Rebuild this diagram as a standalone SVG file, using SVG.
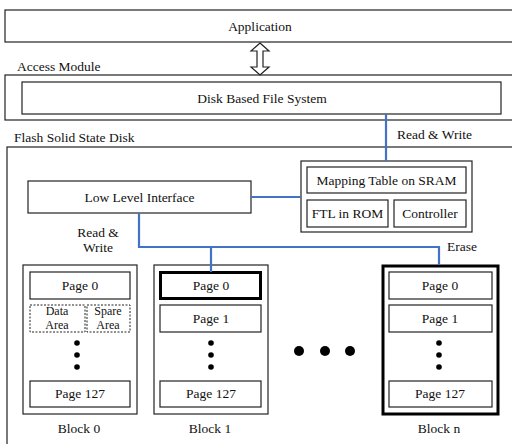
<svg xmlns="http://www.w3.org/2000/svg" width="512" height="444" viewBox="0 0 512 444">
<style>
.b{fill:#fff;stroke:#222;stroke-width:1.2}
.thick{fill:#fff;stroke:#000;stroke-width:3}
.dash{fill:none;stroke:#222;stroke-width:1;stroke-dasharray:2,1.5}
text{font-family:"Liberation Serif","Times New Roman",serif;font-size:13.5px;fill:#111}
.c{text-anchor:middle}
.s{font-size:12px}
.con{fill:none;stroke:#4472C4;stroke-width:2.2}
.dot{fill:#000}
</style>
<rect width="512" height="444" fill="#fff"/>
<g id="application">
<rect class="b" x="5" y="10" width="520" height="32"/>
<text class="c" x="260" y="31">Application</text>
</g>
<g id="access-module">
<rect class="b" x="5" y="75" width="520" height="45"/>
<text x="17" y="71">Access Module</text>
</g>
<g id="disk-fs">
<rect class="b" x="22" y="82" width="479" height="32"/>
<text class="c" x="262" y="103">Disk Based File System</text>
</g>
<g id="flash-ssd">
<rect class="b" x="7" y="147" width="520" height="310"/>
<text x="14" y="142">Flash Solid State Disk</text>
</g>
<g id="controller-group">
<rect class="b" x="301" y="161" width="171" height="71"/>
</g>
<g id="mapping-table">
<rect class="b" x="307" y="167" width="159" height="26"/>
<text class="c" x="386.5" y="185">Mapping Table on SRAM</text>
</g>
<g id="ftl-rom">
<rect class="b" x="307" y="200" width="81" height="27"/>
<text class="c" x="347.5" y="218">FTL in ROM</text>
</g>
<g id="controller">
<rect class="b" x="394" y="200" width="72" height="27"/>
<text class="c" x="430" y="218">Controller</text>
</g>
<g id="low-level-interface">
<rect class="b" x="28" y="181" width="223" height="32"/>
<text class="c" x="139.5" y="202">Low Level Interface</text>
</g>
<g id="block0">
<rect class="b" x="23" y="265" width="114" height="149"/>
<rect class="b" x="30" y="272" width="100" height="27"/>
<text class="c" x="80" y="290">Page 0</text>
<rect class="dash" x="30" y="305" width="55" height="27"/>
<rect class="dash" x="87" y="305" width="43" height="27"/>
<text class="c s" x="57" y="315">Data</text>
<text class="c s" x="57" y="329">Area</text>
<text class="c s" x="108" y="315">Spare</text>
<text class="c s" x="108" y="329">Area</text>
<circle class="dot" cx="77" cy="343" r="2.8"/>
<circle class="dot" cx="77" cy="355" r="2.8"/>
<circle class="dot" cx="77" cy="367" r="2.8"/>
<rect class="b" x="30" y="381" width="100" height="26"/>
<text class="c" x="80" y="398">Page 127</text>
<text class="c" x="79" y="433">Block 0</text>
</g>
<g id="block1">
<rect class="b" x="154" y="265" width="114" height="149"/>
<rect class="thick" x="160.5" y="272.5" width="100" height="26"/>
<text class="c" x="211" y="290">Page 0</text>
<rect class="b" x="160" y="305" width="101" height="27"/>
<text class="c" x="211" y="323">Page 1</text>
<circle class="dot" cx="211" cy="343" r="2.8"/>
<circle class="dot" cx="211" cy="355" r="2.8"/>
<circle class="dot" cx="211" cy="367" r="2.8"/>
<rect class="b" x="160" y="381" width="101" height="26"/>
<text class="c" x="211" y="398">Page 127</text>
<text class="c" x="210" y="433">Block 1</text>
</g>
<g id="ellipsis">
<circle class="dot" cx="299" cy="351" r="5"/>
<circle class="dot" cx="325" cy="351" r="5"/>
<circle class="dot" cx="350" cy="351" r="5"/>
</g>
<g id="blockn">
<rect class="thick" x="383" y="266" width="115" height="148"/>
<rect class="b" x="389" y="272" width="103" height="27"/>
<text class="c" x="440" y="290">Page 0</text>
<rect class="b" x="389" y="305" width="103" height="27"/>
<text class="c" x="440" y="323">Page 1</text>
<circle class="dot" cx="439" cy="343" r="2.8"/>
<circle class="dot" cx="439" cy="355" r="2.8"/>
<circle class="dot" cx="439" cy="367" r="2.8"/>
<rect class="b" x="389" y="381" width="103" height="26"/>
<text class="c" x="440" y="398">Page 127</text>
<text class="c" x="439" y="433">Block n</text>
</g>
<g id="connectors">
<polygon points="260,43 269,51 263,51 263,67 269,67 260,75 251,67 257,67 257,51 251,51" fill="#fff" stroke="#222" stroke-width="1.2"/>
<path class="con" d="M386,114 V161"/>
<path class="con" d="M251,197 H301"/>
<path class="con" d="M139,213 V247 H439 V265"/>
<path class="con" d="M211,247 V272"/>
<text x="397" y="139">Read &amp; Write</text>
<text class="c" x="98" y="237">Read &amp;</text>
<text class="c" x="98" y="252">Write</text>
<text class="c" x="462" y="251">Erase</text>
</g>
</svg>
